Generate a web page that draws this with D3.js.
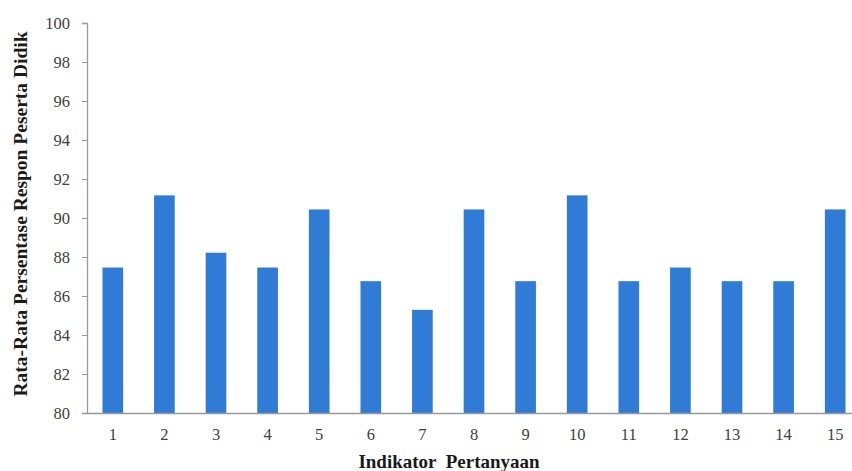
<!DOCTYPE html>
<html>
<head>
<meta charset="utf-8">
<script src="https://cdn.jsdelivr.net/npm/d3@7"></script>
<style>
  body { margin: 0; background: #fff; }
  svg { display: block; }
</style>
</head>
<body>
<div id="chart"></div>
<script>
// data
const indikator = ["1","2","3","4","5","6","7","8","9","10","11","12","13","14","15"];
const rataRata  = [87.46, 91.16, 88.22, 87.46, 90.44, 86.76, 85.29, 90.44, 86.76, 91.16, 86.76, 87.46, 86.76, 86.76, 90.44];
const yTicks    = [80, 82, 84, 86, 88, 90, 92, 94, 96, 98, 100];

const W = 852, H = 471;
const margin = { top: 23, right: -9, bottom: 58, left: 87 };
const width  = W - margin.left - margin.right;
const height = H - margin.top - margin.bottom;

const svg = d3.select("#chart").append("svg")
    .attr("width", W).attr("height", H);

const g = svg.append("g")
    .attr("transform", `translate(${margin.left},${margin.top})`);

const x = d3.scaleBand()
  .domain(indikator)
  .range([0, width])
  .paddingInner(0.6)
  .paddingOuter(0.3);

const y = d3.scaleLinear()
  .domain([80, 100])
  .range([height, 0]);

// bars
g.selectAll("rect.bar")
  .data(indikator)
  .enter().append("rect")
    .attr("class", "bar")
    .attr("x", d => x(d))
    .attr("y", (d, i) => y(rataRata[i]))
    .attr("width", x.bandwidth())
    .attr("height", (d, i) => y(80) - y(rataRata[i]))
    .attr("fill", "#2f7bd6");

// y axis
const yAxisG = g.append("g")
  .call(d3.axisLeft(y).tickValues(yTicks).tickSize(5).tickPadding(12));
yAxisG.select("path.domain").attr("stroke", "#999").attr("stroke-width", 1.3);
yAxisG.selectAll(".tick line").attr("stroke", "#999");
yAxisG.selectAll("text")
  .style("font-family", "'Liberation Serif', serif")
  .style("font-size", "16.5px")
  .attr("fill", "#404040");

// x axis
const xAxisG = g.append("g")
  .attr("transform", `translate(0,${height})`)
  .call(d3.axisBottom(x).tickSize(0).tickPadding(15));
xAxisG.select("path.domain").attr("stroke", "#999").attr("stroke-width", 1.3);
xAxisG.selectAll("text")
  .style("font-family", "'Liberation Serif', serif")
  .style("font-size", "16.5px")
  .attr("fill", "#404040");

// axis titles
svg.append("text")
  .attr("transform", "rotate(-90)")
  .attr("x", -214)
  .attr("y", 27)
  .attr("text-anchor", "middle")
  .style("font-family", "'Liberation Serif', serif")
  .style("font-size", "19.5px")
  .style("font-weight", "bold")
  .attr("fill", "#1a1a1a")
  .text("Rata-Rata Persentase Respon Peserta Didik");

svg.append("text")
  .attr("x", 449)
  .attr("y", 468)
  .attr("text-anchor", "middle")
  .style("font-family", "'Liberation Serif', serif")
  .style("font-size", "19px")
  .style("font-weight", "bold")
  .style("white-space", "pre")
  .attr("fill", "#1a1a1a")
  .text("Indikator  Pertanyaan");
</script>
</body>
</html>
